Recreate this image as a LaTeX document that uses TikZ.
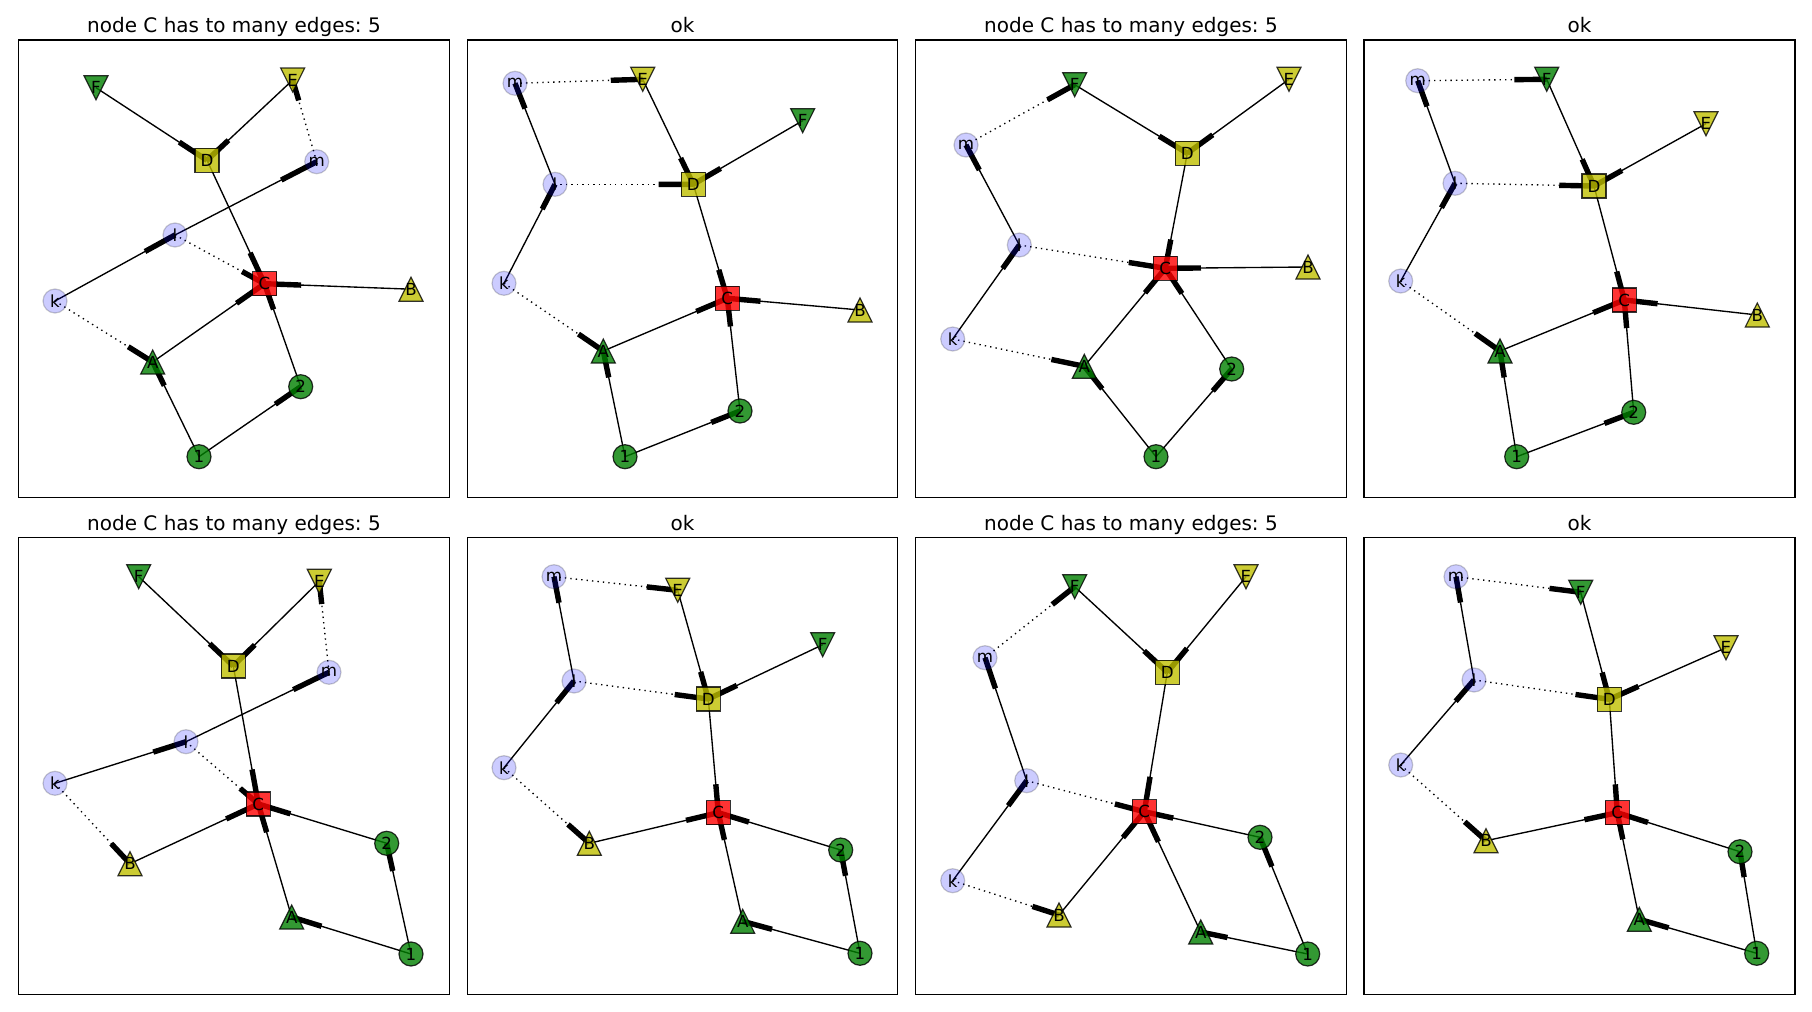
\documentclass[tikz,border=0pt]{standalone}
\usepackage{fontspec}
\setmainfont{DejaVu Sans}
\frenchspacing
\usetikzlibrary{calc}
\pgfdeclarelayer{edgelayer}
\pgfdeclarelayer{shapelayer}
\pgfsetlayers{edgelayer,shapelayer,main}
\definecolor{gcol}{rgb}{0,0.5,0}
\definecolor{ycol}{rgb}{0.75,0.75,0}
\definecolor{rcol}{rgb}{1,0,0}
\definecolor{bcol}{rgb}{0,0,1}
\tikzset{
  lbl/.style={inner sep=0pt, font=\fontsize{8.33}{9}\selectfont, text=black},
  ttl/.style={inner sep=0pt, anchor=base, font=\fontsize{10}{12}\selectfont, text=black},
  frm/.style={draw=black, line width=0.6pt},
  edgeline/.style={draw=black, line width=0.68pt},
  dotline/.style={draw=black, line width=0.68pt, dash pattern=on 0.68pt off 2.05pt},
  headbar/.style={draw=black, line width=2.7pt},
  gnode/.style={fill=gcol, draw=black, fill opacity=0.8, draw opacity=0.8, line width=0.6pt},
  ynode/.style={fill=ycol, draw=black, fill opacity=0.8, draw opacity=0.8, line width=0.6pt},
  rnode/.style={fill=rcol, draw=black, fill opacity=0.8, draw opacity=0.8, line width=0.6pt},
  bnode/.style={fill=bcol, draw=black, fill opacity=0.2, draw opacity=0.2, line width=0.6pt},
}
\newcommand\Cir[2]{\path[#2] (#1.center) circle[radius=6pt];}
\newcommand\Sqr[2]{\path[#2] ([shift={(-6pt,-6pt)}]#1.center) rectangle ([shift={(6pt,6pt)}]#1.center);}
\newcommand\Tup[2]{\path[#2] ([shift={(0pt,6pt)}]#1.center) -- ([shift={(-6pt,-6pt)}]#1.center) -- ([shift={(6pt,-6pt)}]#1.center) -- cycle;}
\newcommand\Tdn[2]{\path[#2] ([shift={(0pt,-6pt)}]#1.center) -- ([shift={(-6pt,6pt)}]#1.center) -- ([shift={(6pt,6pt)}]#1.center) -- cycle;}
\newcommand\allshapes[1]{%
  \Tdn{#1-F}{gnode}\Tdn{#1-E}{ynode}\Sqr{#1-D}{ynode}\Sqr{#1-C}{rnode}%
  \Tup{#1-B}{ynode}\Tup{#1-A}{gnode}\Cir{#1-1}{gnode}\Cir{#1-2}{gnode}%
  \Cir{#1-k}{bnode}\Cir{#1-l}{bnode}\Cir{#1-m}{bnode}}
\newcommand\Es[3]{\draw[edgeline] (#1-#2.center) -- (#1-#3.center);
  \draw[headbar] ($(#1-#2.center)!0.75!(#1-#3.center)$) -- (#1-#3.center);}
\newcommand\Ed[3]{\draw[dotline] (#1-#2.center) -- (#1-#3.center);
  \draw[headbar] ($(#1-#2.center)!0.75!(#1-#3.center)$) -- (#1-#3.center);}
\newcommand\V[4]{\node[lbl] (#1) at (#2,#3) {#4};}
\begin{document}
\begin{tikzpicture}[x=0.5pt,y=-0.5pt]
\useasboundingbox (0,0) rectangle (1812,1012);
% frames
\draw[frm] (18.3,40) rectangle (449.7,497.3);
\draw[frm] (467.3,40) rectangle (897.7,497.3);
\draw[frm] (915.3,40) rectangle (1346.7,497.3);
\draw[frm] (1364,40) rectangle (1795,497.3);
\draw[frm] (18.3,537.3) rectangle (449.7,994.3);
\draw[frm] (467.3,537.3) rectangle (897.7,994.3);
\draw[frm] (915.3,537.3) rectangle (1346.7,994.3);
\draw[frm] (1364,537.3) rectangle (1795,994.3);
% titles
\node[ttl] (t1) at (234,32.7) {node C has to many edges: 5};
\node[ttl] (t2) at (682.5,32.7) {ok};
\node[ttl] (t3) at (1131,32.7) {node C has to many edges: 5};
\node[ttl] (t4) at (1579.5,32.7) {ok};
\node[ttl] (t5) at (234,530.3) {node C has to many edges: 5};
\node[ttl] (t6) at (682.5,530.3) {ok};
\node[ttl] (t7) at (1131,530.3) {node C has to many edges: 5};
\node[ttl] (t8) at (1579.5,530.3) {ok};
% panel 1
\V{p1-F}{96.0}{87.7}{F}\V{p1-E}{292.7}{80.0}{E}\V{p1-D}{207.0}{160.3}{D}
\V{p1-m}{316.7}{161.7}{m}\V{p1-l}{175.0}{235.0}{l}\V{p1-C}{264.5}{283.7}{C}
\V{p1-B}{411.0}{289.2}{B}\V{p1-k}{55.0}{301.0}{k}\V{p1-A}{152.7}{362.0}{A}
\V{p1-2}{300.7}{386.7}{2}\V{p1-1}{199.0}{456.7}{1}
% panel 2
\V{p2-m}{515.0}{83.3}{m}\V{p2-E}{642.7}{79.3}{E}\V{p2-F}{802.7}{120.7}{F}
\V{p2-l}{555.0}{184.3}{l}\V{p2-D}{693.3}{184.3}{D}\V{p2-k}{504.0}{283.3}{k}
\V{p2-C}{727.3}{298.3}{C}\V{p2-B}{860.0}{310.0}{B}\V{p2-A}{603.3}{351.0}{A}
\V{p2-2}{740.0}{411.0}{2}\V{p2-1}{625.0}{456.7}{1}
% panel 3
\V{p3-F}{1074.7}{84.7}{F}\V{p3-E}{1289.0}{79.3}{E}\V{p3-m}{966.0}{145.0}{m}
\V{p3-D}{1187.3}{153.3}{D}\V{p3-l}{1019.3}{245.0}{l}\V{p3-C}{1165.3}{268.3}{C}
\V{p3-B}{1308.0}{267.0}{B}\V{p3-k}{952.7}{339.0}{k}\V{p3-A}{1084.3}{366.3}{A}
\V{p3-2}{1231.7}{369.0}{2}\V{p3-1}{1156.0}{456.7}{1}
% panel 4
\V{p4-m}{1417.7}{80.7}{m}\V{p4-F}{1546.7}{79.3}{F}\V{p4-E}{1706.0}{123.7}{E}
\V{p4-l}{1455.0}{183.3}{l}\V{p4-D}{1594.0}{186.0}{D}\V{p4-k}{1400.7}{281.0}{k}
\V{p4-C}{1624.3}{300.0}{C}\V{p4-B}{1757.3}{315.0}{B}\V{p4-A}{1500.0}{351.0}{A}
\V{p4-2}{1633.7}{412.3}{2}\V{p4-1}{1516.7}{456.7}{1}
% panel 5
\V{p5-F}{138.7}{576.7}{F}\V{p5-E}{319.3}{581.3}{E}\V{p5-D}{233.3}{666.0}{D}
\V{p5-m}{329.0}{672.3}{m}\V{p5-l}{186.0}{741.7}{l}\V{p5-k}{55.0}{783.3}{k}
\V{p5-C}{258.3}{804.0}{C}\V{p5-2}{386.7}{843.3}{2}\V{p5-B}{130.0}{863.7}{B}
\V{p5-A}{291.7}{917.0}{A}\V{p5-1}{411.0}{954.0}{1}
% panel 6
\V{p6-m}{554.0}{576.7}{m}\V{p6-E}{677.7}{590.3}{E}\V{p6-F}{822.7}{644.7}{F}
\V{p6-l}{574.0}{681.0}{l}\V{p6-D}{708.3}{699.0}{D}\V{p6-k}{504.0}{767.7}{k}
\V{p6-C}{718.3}{812.7}{C}\V{p6-B}{589.3}{843.3}{B}\V{p6-2}{840.7}{850.0}{2}
\V{p6-A}{742.7}{921.3}{A}\V{p6-1}{860.0}{953.3}{1}
% panel 7
\V{p7-F}{1074.7}{586.7}{F}\V{p7-E}{1246.0}{576.7}{E}\V{p7-m}{985.0}{657.7}{m}
\V{p7-D}{1167.3}{672.3}{D}\V{p7-l}{1026.7}{780.7}{l}\V{p7-C}{1144.3}{811.7}{C}
\V{p7-2}{1260.0}{837.3}{2}\V{p7-k}{952.7}{880.7}{k}\V{p7-B}{1059.0}{915.0}{B}
\V{p7-A}{1200.7}{932.0}{A}\V{p7-1}{1307.7}{954.0}{1}
% panel 8
\V{p8-m}{1456.0}{576.7}{m}\V{p8-F}{1580.7}{592.3}{F}\V{p8-E}{1726.0}{647.7}{E}
\V{p8-l}{1474.0}{680.0}{l}\V{p8-D}{1609.3}{699.3}{D}\V{p8-k}{1400.7}{765.0}{k}
\V{p8-C}{1617.3}{812.7}{C}\V{p8-B}{1486.0}{840.7}{B}\V{p8-2}{1740.0}{851.7}{2}
\V{p8-A}{1639.3}{919.3}{A}\V{p8-1}{1756.7}{953.3}{1}
\begin{pgfonlayer}{edgelayer}
% panel 1
\Es{p1}{F}{D}\Es{p1}{E}{D}\Ed{p1}{m}{E}\Es{p1}{D}{C}\Es{p1}{k}{l}\Es{p1}{l}{m}
\Ed{p1}{l}{C}\Ed{p1}{k}{A}\Es{p1}{B}{C}\Es{p1}{A}{C}\Es{p1}{2}{C}\Es{p1}{1}{A}\Es{p1}{1}{2}
% panel 2
\Ed{p2}{m}{E}\Es{p2}{E}{D}\Es{p2}{F}{D}\Es{p2}{l}{m}\Ed{p2}{l}{D}\Es{p2}{k}{l}
\Es{p2}{D}{C}\Es{p2}{B}{C}\Es{p2}{A}{C}\Ed{p2}{k}{A}\Es{p2}{2}{C}\Es{p2}{1}{A}\Es{p2}{1}{2}
% panel 3
\Ed{p3}{m}{F}\Es{p3}{F}{D}\Es{p3}{E}{D}\Es{p3}{l}{m}\Ed{p3}{l}{C}\Es{p3}{k}{l}
\Es{p3}{D}{C}\Es{p3}{B}{C}\Ed{p3}{k}{A}\Es{p3}{A}{C}\Es{p3}{2}{C}\Es{p3}{1}{A}\Es{p3}{1}{2}
% panel 4
\Ed{p4}{m}{F}\Es{p4}{F}{D}\Es{p4}{E}{D}\Es{p4}{l}{m}\Ed{p4}{l}{D}\Es{p4}{k}{l}
\Es{p4}{D}{C}\Es{p4}{B}{C}\Es{p4}{A}{C}\Ed{p4}{k}{A}\Es{p4}{2}{C}\Es{p4}{1}{A}\Es{p4}{1}{2}
% panel 5
\Es{p5}{F}{D}\Es{p5}{E}{D}\Ed{p5}{m}{E}\Es{p5}{D}{C}\Es{p5}{l}{m}\Es{p5}{k}{l}
\Ed{p5}{l}{C}\Ed{p5}{k}{B}\Es{p5}{B}{C}\Es{p5}{2}{C}\Es{p5}{A}{C}\Es{p5}{1}{A}\Es{p5}{1}{2}
% panel 6
\Ed{p6}{m}{E}\Es{p6}{E}{D}\Es{p6}{F}{D}\Es{p6}{l}{m}\Ed{p6}{l}{D}\Es{p6}{k}{l}
\Es{p6}{D}{C}\Ed{p6}{k}{B}\Es{p6}{B}{C}\Es{p6}{2}{C}\Es{p6}{A}{C}\Es{p6}{1}{A}\Es{p6}{1}{2}
% panel 7
\Ed{p7}{m}{F}\Es{p7}{F}{D}\Es{p7}{E}{D}\Es{p7}{l}{m}\Ed{p7}{l}{C}\Es{p7}{k}{l}
\Es{p7}{D}{C}\Es{p7}{2}{C}\Es{p7}{B}{C}\Es{p7}{A}{C}\Ed{p7}{k}{B}\Es{p7}{1}{A}\Es{p7}{1}{2}
% panel 8
\Ed{p8}{m}{F}\Es{p8}{F}{D}\Es{p8}{E}{D}\Es{p8}{l}{m}\Ed{p8}{l}{D}\Es{p8}{k}{l}
\Es{p8}{D}{C}\Ed{p8}{k}{B}\Es{p8}{B}{C}\Es{p8}{2}{C}\Es{p8}{A}{C}\Es{p8}{1}{A}\Es{p8}{1}{2}
\end{pgfonlayer}
\begin{pgfonlayer}{shapelayer}
\allshapes{p1}\allshapes{p2}\allshapes{p3}\allshapes{p4}
\allshapes{p5}\allshapes{p6}\allshapes{p7}\allshapes{p8}
\end{pgfonlayer}
\end{tikzpicture}
\end{document}
